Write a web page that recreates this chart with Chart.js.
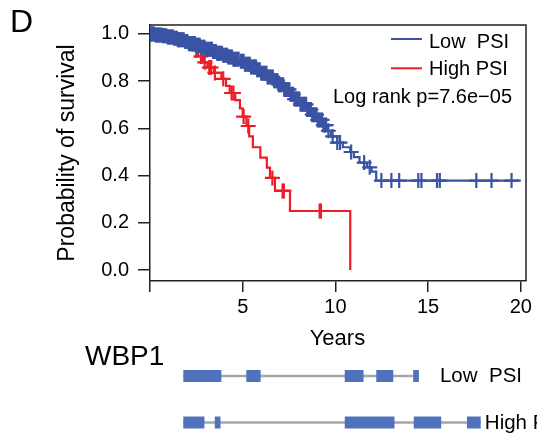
<!DOCTYPE html>
<html><head><meta charset="utf-8">
<script src="https://cdn.jsdelivr.net/npm/chart.js@4.4.1/dist/chart.umd.min.js"></script>
<style>
html,body{margin:0;padding:0;background:#fff;overflow:hidden}
#wrap{position:relative;width:537px;height:433px;overflow:hidden}
canvas{position:absolute;left:0}
#km{top:0}
#gene{top:340px}
</style></head><body>
<div id="wrap"><canvas id="km" width="537" height="433"></canvas><canvas id="gene" width="537" height="120"></canvas></div>
<script>
// ---------------- data ----------------
const panelLetter = 'D';
const seriesNames = ['Low  PSI', 'High PSI'];
const xTitle = 'Years';
const yTitle = 'Probability of survival';
const pValueText = 'Log rank p=7.6e\u221205';
const xTicks = [0, 5, 10, 15, 20];
const yTicks = [0, 0.2, 0.4, 0.6, 0.8, 1.0];

// Low PSI: event times and survival after each event
const lowTimes = [0.3, 0.65, 0.9, 1.25, 1.5, 1.85, 2.1, 2.45, 2.7, 3.0, 3.35, 3.6, 3.95, 4.2, 4.5, 4.85, 5.1, 5.4, 5.75, 6.0, 6.3, 6.65, 6.9, 7.2, 7.55, 7.8, 8.1, 8.45, 8.7, 9.0, 9.3, 9.55, 9.75, 10.1, 10.4, 10.8, 11.0, 11.3, 11.7, 11.95, 12.2];
const lowSurv  = [0.996, 0.992, 0.987, 0.982, 0.976, 0.968, 0.960, 0.952, 0.944, 0.935, 0.926, 0.918, 0.910, 0.902, 0.893, 0.884, 0.872, 0.860, 0.848, 0.834, 0.818, 0.802, 0.785, 0.765, 0.745, 0.724, 0.702, 0.680, 0.658, 0.636, 0.614, 0.590, 0.566, 0.540, 0.520, 0.500, 0.478, 0.455, 0.435, 0.417, 0.379];
const lowLastFollowUp = 20.0;
const lowCensor = [0.05, 0.1, 0.15, 0.22, 0.3, 0.36, 0.42, 0.48, 0.55, 0.62, 0.68, 0.74, 0.8, 0.88, 0.95, 1.0, 1.05, 1.12, 1.18, 1.24, 1.3, 1.38, 1.45, 1.5, 1.55, 1.62, 1.7, 1.76, 1.82, 1.9, 1.95, 2.02, 2.1, 2.16, 2.22, 2.28, 2.35, 2.42, 2.5, 2.56, 2.62, 2.68, 2.75, 2.82, 2.88, 2.94, 3.0, 3.08, 3.15, 3.22, 3.28, 3.34, 3.4, 3.48, 3.55, 3.62, 3.68, 3.74, 3.8, 3.88, 3.95, 4.02, 4.1, 4.16, 4.22, 4.28, 4.35, 4.42, 4.5, 4.56, 4.62, 4.7, 4.78, 4.9, 4.98, 5.05, 5.12, 5.2, 5.26, 5.32, 5.38, 5.45, 5.52, 5.6, 5.66, 5.72, 5.78, 5.85, 5.92, 6.0, 6.08, 6.15, 6.22, 6.28, 6.34, 6.4, 6.48, 6.55, 6.62, 6.7, 6.76, 6.82, 6.88, 6.95, 7.02, 7.1, 7.18, 7.25, 7.3, 7.38, 7.44, 7.5, 7.58, 7.65, 7.72, 7.8, 7.86, 7.92, 7.98, 8.05, 8.12, 8.2, 8.28, 8.35, 8.42, 8.48, 8.55, 8.6, 8.68, 8.75, 8.82, 8.9, 8.98, 9.05, 9.12, 9.2, 9.28, 9.35, 9.42, 9.5, 9.62, 9.85, 10.1, 10.25, 10.85, 11.55, 11.85, 12.48, 13.02, 13.44, 14.47, 14.64, 15.48, 15.63, 17.6, 18.42, 19.5];

// High PSI
const highTimes = [0.6, 1.1, 1.6, 2.0, 2.3, 2.6, 2.85, 3.1, 3.45, 3.85, 4.1, 4.3, 4.6, 4.85, 5.0, 5.2, 5.35, 5.55, 5.95, 6.3, 6.47, 6.74, 7.55, 10.8];
const highSurv  = [0.99, 0.98, 0.965, 0.948, 0.93, 0.905, 0.88, 0.858, 0.835, 0.81, 0.78, 0.75, 0.72, 0.685, 0.65, 0.61, 0.566, 0.52, 0.476, 0.434, 0.39, 0.335, 0.25, 0.0];
const highCensor = [2.5, 2.75, 2.95, 3.2, 3.3, 3.5, 3.95, 4.4, 4.5, 5.05, 5.3, 6.6, 7.15, 7.22, 9.15, 9.22];

// gene structure (relative position along gene, 0-100)
const geneName = 'WBP1';
const geneRows = ['Low  PSI', 'High PSI'];
const lowPsiExons  = [[0, 12.7], [21.3, 25.9], [54.4, 60.5], [65.0, 70.5], [77.4, 79.1]];
const highPsiExons = [[0, 7.0], [10.7, 12.4], [54.4, 70.9], [77.6, 86.6], [95.5, 100]];
const geneLabelPos = [86.3, 101.4];

// ---------------- styles ----------------
const FONT = '"Liberation Sans", Arial, Helvetica, sans-serif';
const BLUE = '#3b53a4';
const RED = '#ee1d25';
const AXIS = '#222';
Chart.defaults.font.family = FONT;
Chart.defaults.color = '#000';

function stepData(times, surv, last) {
  const d = [{x: 0, y: 1}];
  times.forEach((t, i) => d.push({x: t, y: surv[i]}));
  if (last !== undefined) d.push({x: last, y: surv[surv.length - 1]});
  return d;
}
function survAt(times, surv, t) {
  let s = 1;
  for (let i = 0; i < times.length; i++) { if (times[i] <= t) s = surv[i]; }
  return s;
}
function censorData(cens, times, surv) {
  return cens.map(t => ({x: t, y: survAt(times, surv, t)}));
}

const lineCommon = {showLine: true, stepped: 'before', borderWidth: 2.2, pointRadius: 0, fill: false, tension: 0};
const censCommon = {showLine: false, pointStyle: 'cross', pointRadius: 7.5, pointBorderWidth: 2.2, pointHoverRadius: 7.5};

const kmDecor = {
  id: 'kmDecor',
  afterDraw(chart) {
    const {ctx, chartArea: ca, scales} = chart;
    ctx.save();
    // frame (top & right)
    ctx.strokeStyle = AXIS; ctx.lineWidth = 1.5;
    ctx.beginPath();
    ctx.moveTo(ca.left, ca.top); ctx.lineTo(ca.right, ca.top); ctx.lineTo(ca.right, ca.bottom);
    ctx.stroke();
    ctx.fillStyle = '#000';
    // panel letter
    ctx.font = '32px ' + FONT; ctx.textAlign = 'left'; ctx.textBaseline = 'alphabetic';
    ctx.fillText(panelLetter, 10, 32);
    // x title
    ctx.font = '22px ' + FONT; ctx.textAlign = 'center';
    ctx.fillText(xTitle, scales.x.getPixelForValue(10) + 2, 345);
    // y title
    ctx.save();
    ctx.translate(74, (ca.top + ca.bottom) / 2);
    ctx.rotate(-Math.PI / 2);
    ctx.font = '23px ' + FONT; ctx.textAlign = 'center'; ctx.textBaseline = 'alphabetic';
    ctx.fillText(yTitle, 0, 0);
    ctx.restore();
    // legend
    const colors = [BLUE, RED];
    const lineY = [39, 68.3];
    const textY = [48.3, 75];
    ctx.font = '20px ' + FONT; ctx.textAlign = 'left';
    seriesNames.forEach((n, i) => {
      ctx.strokeStyle = colors[i]; ctx.lineWidth = 2;
      ctx.beginPath(); ctx.moveTo(ca.right - 135, lineY[i]); ctx.lineTo(ca.right - 104, lineY[i]); ctx.stroke();
      ctx.fillText(n, ca.right - 97, textY[i]);
    });
    ctx.textAlign = 'right';
    ctx.fillText(pValueText, ca.right - 14, 103);
    ctx.restore();
  }
};

new Chart(document.getElementById('km'), {
  type: 'scatter',
  data: {
    datasets: [
      Object.assign({label: seriesNames[0], data: stepData(lowTimes, lowSurv, lowLastFollowUp), borderColor: BLUE}, lineCommon),
      Object.assign({label: seriesNames[0] + ' censored', data: censorData(lowCensor, lowTimes, lowSurv), borderColor: BLUE, pointBorderColor: BLUE}, censCommon),
      Object.assign({label: seriesNames[1], data: stepData(highTimes, highSurv), borderColor: RED}, lineCommon),
      Object.assign({label: seriesNames[1] + ' censored', data: censorData(highCensor, highTimes, highSurv), borderColor: RED, pointBorderColor: RED}, censCommon)
    ]
  },
  options: {
    responsive: false, animation: false, events: [],
    layout: {padding: {left: 0, top: 25, right: 11, bottom: 0}},
    plugins: {legend: {display: false}, tooltip: {enabled: false}},
    scales: {
      x: {
        type: 'linear', min: 0, max: 20.28,
        afterBuildTicks: s => { s.ticks = xTicks.map(v => ({value: v})); },
        afterFit: s => { s.height = 152; },
        ticks: {callback: v => (v === 0 ? '' : String(v)), font: {size: 20}, color: '#000', padding: 3, maxRotation: 0, autoSkip: false},
        grid: {display: true, drawOnChartArea: false, drawTicks: true, tickLength: 11, color: AXIS, lineWidth: 1.5},
        border: {display: true, color: AXIS, width: 1.5}
      },
      y: {
        type: 'linear', min: -0.0466, max: 1.038,
        afterBuildTicks: s => { s.ticks = yTicks.map(v => ({value: v})); },
        afterFit: s => { s.width = 150; },
        ticks: {callback: v => Number(v).toFixed(1), font: {size: 20}, color: '#000', padding: 9, autoSkip: false},
        grid: {display: true, drawOnChartArea: false, drawTicks: true, tickLength: 12, color: AXIS, lineWidth: 1.5},
        border: {display: true, color: AXIS, width: 1.5}
      }
    }
  },
  plugins: [kmDecor]
});

// ---------------- gene structure ----------------
const EXON = '#5072bd';
const INTRON = '#a6a6a6';
const geneText = {
  id: 'geneText',
  afterDatasetsDraw(chart) {
    const {ctx, scales} = chart;
    ctx.save();
    ctx.fillStyle = '#000';
    ctx.font = '28px ' + FONT; ctx.textAlign = 'left'; ctx.textBaseline = 'alphabetic';
    ctx.fillText(geneName, 85, 25);
    ctx.font = '20.5px ' + FONT;
    geneRows.forEach((r, i) => {
      ctx.fillText(r, scales.x.getPixelForValue(geneLabelPos[i]), scales.y.getPixelForValue(i) + 6);
    });
    ctx.restore();
  }
};
const exonSets = lowPsiExons.map((e, k) => ({
  label: 'exon ' + (k + 1), data: [lowPsiExons[k], highPsiExons[k]],
  backgroundColor: EXON, borderWidth: 0, borderSkipped: false, barThickness: 11.5, grouped: false, order: 1
}));
const intronSet = {
  label: 'intron',
  data: [[lowPsiExons[0][0], lowPsiExons[lowPsiExons.length - 1][1]], [highPsiExons[0][0], highPsiExons[highPsiExons.length - 1][1]]],
  backgroundColor: INTRON, borderWidth: 0, barThickness: 1.6, grouped: false, order: 2
};
new Chart(document.getElementById('gene'), {
  type: 'bar',
  data: {labels: geneRows, datasets: [intronSet].concat(exonSets)},
  options: {
    indexAxis: 'y', responsive: false, animation: false, events: [],
    layout: {padding: {left: 183.3, right: 56.3, top: 12.75, bottom: 14.25}},
    plugins: {legend: {display: false}, tooltip: {enabled: false}},
    scales: {
      x: {type: 'linear', min: 0, max: 100, display: false},
      y: {type: 'category', display: false}
    }
  },
  plugins: [geneText]
});
</script>
</body></html>
